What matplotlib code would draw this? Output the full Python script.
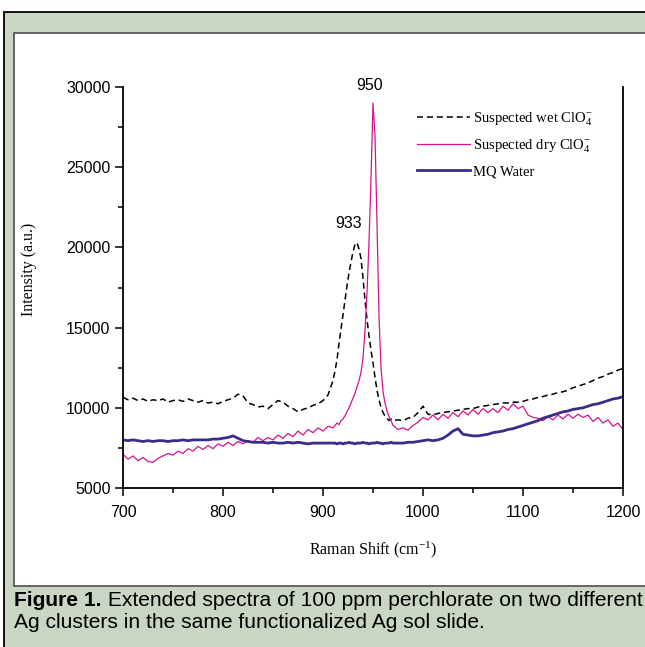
import numpy as np
import matplotlib
matplotlib.use("Agg")
import matplotlib.pyplot as plt
from matplotlib.patches import Rectangle

plt.rcParams['font.family'] = ['Liberation Sans', 'DejaVu Sans']
plt.rcParams['mathtext.fontset'] = 'custom'
plt.rcParams['mathtext.rm'] = 'Liberation Serif'
plt.rcParams['mathtext.it'] = 'Liberation Serif:italic'

# Raman shift sampling (cm-1): coarse baseline, finer around the peaks
shift = np.concatenate([np.arange(700, 911, 5), np.arange(912, 969, 2), np.arange(970, 1201, 5)])

wet = [
    # 700 - 910
    10650, 10500, 10600, 10450, 10550, 10400, 10500, 10450, 10550, 10350,
    10450, 10500, 10400, 10550, 10450, 10350, 10450, 10300, 10350, 10250,
    10400, 10500, 10600, 10850, 10750, 10300, 10200, 10050, 10100, 9950,
    10200, 10450, 10350, 10100, 9950, 9750, 9900, 10000, 10150, 10250,
    10450, 10800, 11700,
    # 912 - 968
    12300, 13000, 14000, 14900, 15800, 16700, 17600, 18400, 19100, 19700,
    20200, 20300, 19900, 19300, 18100, 16700, 15500, 14500, 13600, 12800,
    11900, 11100, 10500, 10050, 9700, 9500, 9350, 9200, 9300,
    # 970 - 1200
    9200, 9250, 9200, 9350, 9400, 9700, 10100, 9600, 9550, 9650,
    9700, 9750, 9800, 9850, 9900, 9950, 9950, 10050, 10100, 10150,
    10200, 10250, 10300, 10300, 10350, 10350, 10400, 10500, 10550, 10650,
    10700, 10800, 10850, 10950, 11000, 11100, 11250, 11350, 11450, 11550,
    11700, 11850, 11950, 12100, 12200, 12350, 12450,
]

dry = [
    # 700 - 910
    7100, 6800, 7000, 6700, 6900, 6650, 6600, 6850, 7000, 7150,
    7050, 7300, 7150, 7450, 7300, 7600, 7400, 7650, 7450, 7750,
    7600, 7850, 7650, 7900, 7750, 7950, 7850, 8150, 7950, 8150,
    8000, 8300, 8100, 8400, 8200, 8550, 8300, 8650, 8450, 8750,
    8550, 8850, 8750,
    # 912 - 968
    8900, 9050, 8950, 9200, 9300, 9500, 9750, 10000, 10300, 10600,
    10900, 11300, 11700, 12200, 13100, 14800, 17200, 20300, 24300, 29000,
    27000, 21500, 15700, 12500, 11000, 10300, 9800, 9450, 9200,
    # 970 - 1200
    8900, 8650, 8750, 8600, 8900, 9100, 9400, 9250, 9550, 9250,
    9600, 9350, 9700, 9450, 9800, 9550, 9900, 9600, 9950, 9700,
    9950, 9700, 10100, 9850, 10250, 9950, 10100, 9550, 9400, 9350,
    9200, 9450, 9250, 9550, 9300, 9600, 9350, 9600, 9400, 9550,
    9150, 9400, 9050, 9250, 8850, 9050, 8650,
]

water = [
    # 700 - 910
    8000, 7950, 8000, 7950, 7900, 7950, 7900, 7950, 7950, 7900,
    7950, 7950, 8000, 7950, 8000, 8000, 8000, 8000, 8050, 8050,
    8100, 8150, 8250, 8100, 7950, 7900, 7850, 7850, 7850, 7800,
    7850, 7800, 7800, 7850, 7800, 7850, 7800, 7750, 7800, 7800,
    7800, 7800, 7800,
    # 912 - 968
    7800, 7750, 7800, 7800, 7750, 7800, 7800, 7850, 7800, 7800,
    7750, 7800, 7800, 7800, 7850, 7800, 7800, 7750, 7800, 7800,
    7800, 7850, 7800, 7800, 7750, 7800, 7800, 7800, 7850,
    # 970 - 1200
    7800, 7800, 7800, 7850, 7850, 7900, 7950, 8000, 7950, 8000,
    8100, 8300, 8550, 8700, 8350, 8300, 8250, 8250, 8300, 8350,
    8450, 8500, 8550, 8650, 8700, 8800, 8900, 9000, 9100, 9200,
    9350, 9450, 9550, 9650, 9750, 9800, 9900, 9950, 10000, 10100,
    10200, 10250, 10350, 10450, 10550, 10600, 10700,
]

peak_labels = ['933', '950']
peak_pos = [(926, 21500), (947, 30100)]

fig = plt.figure(figsize=(6.45, 6.47), dpi=100)

# page frame: green border panel with white inner panel
fig.patches.append(Rectangle((4 / 645, -0.05), 1.1, 1 - 12 / 647 + 0.05, transform=fig.transFigure,
                             facecolor='#cad6c4', edgecolor='black', linewidth=1.3, zorder=-2))
fig.patches.append(Rectangle((14 / 645, 1 - 586 / 647), 1.1, (586 - 33) / 647, transform=fig.transFigure,
                             facecolor='white', edgecolor='#5a5a5a', linewidth=1.3, zorder=-1))

ax = fig.add_axes([123 / 645, 1 - 488 / 647, 500 / 645, 401 / 647])
ax.set_zorder(1)
ax.patch.set_alpha(0)

ax.plot(shift, wet, color='black', lw=1.1, linestyle=(0, (4, 2.5)), label='Suspected wet ClO$_4^{-}$')
ax.plot(shift, dry, color='#d4148c', lw=0.9, label='Suspected dry ClO$_4^{-}$')
ax.plot(shift, water, color='#3b2c8c', lw=2.0, label='MQ Water')

for txt, (px, py) in zip(peak_labels, peak_pos):
    ax.text(px, py, txt, ha='center', va='center', fontsize=11.5)

ax.set_xlim(700, 1200)
ax.set_ylim(5000, 30000)
ax.set_xticks([700, 800, 900, 1000, 1100, 1200])
ax.set_xticks(np.arange(750, 1200, 100), minor=True)
ax.set_yticks([5000, 10000, 15000, 20000, 25000, 30000])
ax.set_yticks(np.arange(7500, 30000, 5000), minor=True)
ax.tick_params(which='major', length=6, width=1.1, labelsize=11.5)
ax.tick_params(which='minor', length=3.3, width=1.1)
ax.tick_params(axis='y', which='major', pad=3)
ax.tick_params(axis='x', which='major', pad=6)
ax.spines['top'].set_visible(False)
for s in ['left', 'bottom', 'right']:
    ax.spines[s].set_linewidth(1.3)

ax.set_xlabel('Raman Shift (cm$^{-1}$)', family='Liberation Serif', fontsize=11.5)
ax.set_ylabel('Intensity (a.u.)', family='Liberation Serif', fontsize=11.5)
ax.xaxis.set_label_coords(0.5, -0.128)
ax.yaxis.set_label_coords(-0.172, 0.545)

ax.legend(loc='upper left', bbox_to_anchor=(0.562, 0.975), frameon=False, handlelength=3.6,
          handletextpad=0.2, labelspacing=0.68, prop={'family': 'Liberation Serif', 'size': 10.5})

# caption
cap = fig.text(14 / 645, 1 - 606 / 647, 'Figure 1.', fontsize=15.1, fontweight='bold', va='baseline')
fig.canvas.draw()
bb = cap.get_window_extent()
fig.text(bb.x1 / fig.bbox.width, 1 - 606 / 647,
         ' Extended spectra of 100 ppm perchlorate on two different', fontsize=15.1, va='baseline')
fig.text(14 / 645, 1 - 628 / 647, 'Ag clusters in the same functionalized Ag sol slide.', fontsize=15.1,
         va='baseline')

fig.savefig('out.png', dpi=100)
